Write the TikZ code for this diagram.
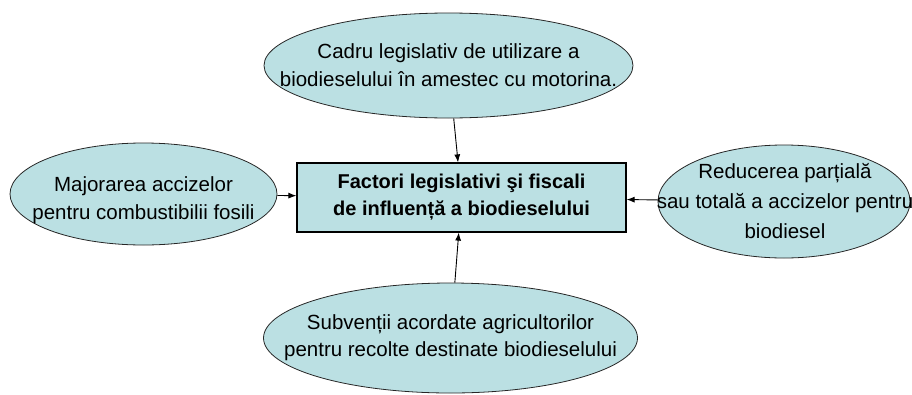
\documentclass[tikz,border=0pt]{standalone}
\usepackage{fontspec}
\setmainfont{Liberation Sans}
\usetikzlibrary{shapes.geometric,arrows.meta}
\definecolor{ellfill}{RGB}{187,224,227}
\begin{document}
\begin{tikzpicture}[->, x=1pt, y=-1pt]
\tikzstyle{ell} = [ellipse, draw=black!85, fill=ellfill, line width=0.8pt, inner sep=0pt]
\tikzstyle{txt} = [align=center, font=\fontsize{20.5}{28}\selectfont]
\tikzstyle{fact} = [rectangle, draw=black, fill=ellfill, line width=1.2pt, minimum width=329pt, minimum height=69pt, align=center, font=\bfseries\fontsize{20}{27}\selectfont]
\tikzstyle{e} = [draw=black, line width=0.9pt, -{Latex[length=8pt,width=6pt]}]

\useasboundingbox (0,0) rectangle (912,394);

\node[fact] (F) at (461.5, 197.5) {Factori legislativi şi fiscali\\de influență a biodieselului};

\node[ell, minimum width=369pt, minimum height=105pt] (T) at (448.5, 65.5) {};
\node[ell, minimum width=267pt, minimum height=102pt] (L) at (143.5, 194) {};
\node[ell, minimum width=252pt, minimum height=113pt] (R) at (784, 201.5) {};
\node[ell, minimum width=374pt, minimum height=110pt] (B) at (450.5, 338) {};

\node[txt] (Tt) at (T) {Cadru legislativ de utilizare a\\biodieselului în amestec cu motorina.};
\node[txt] (Lt) at ([yshift=-6pt]L) {Majorarea accizelor\\pentru combustibilii fosili};
\node[txt, font=\fontsize{20.5}{30}\selectfont] (Rt) at ([xshift=1pt]R) {Reducerea parțială\\sau totală a accizelor pentru\\biodiesel};
\node[txt, font=\fontsize{20.5}{27}\selectfont] (Bt) at (B) {Subvenții acordate agricultorilor\\pentru recolte destinate biodieselului};

\draw[e] (T) to (F);
\draw[e] (L) to (F);
\draw[e] (R) to (F);
\draw[e] (B) to (F);
\end{tikzpicture}
\end{document}
